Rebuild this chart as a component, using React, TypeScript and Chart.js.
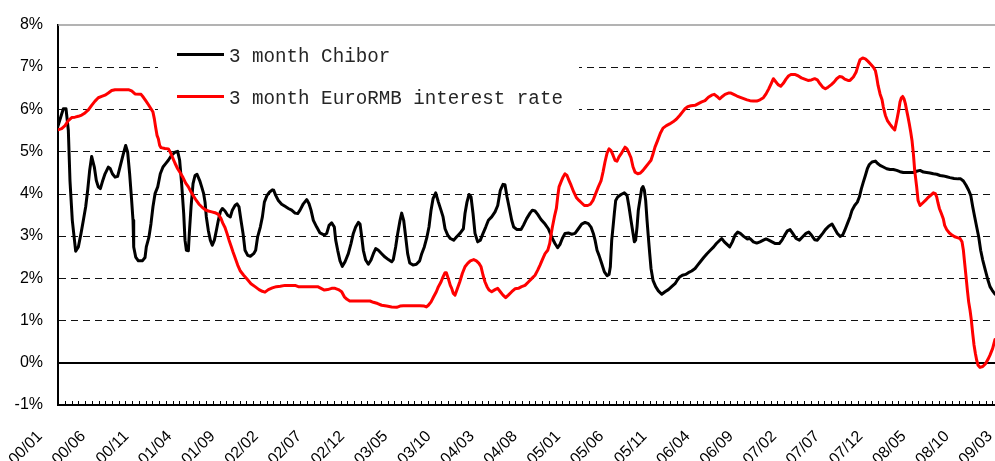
import React, { useEffect, useRef } from 'react';
import { Chart, registerables } from 'chart.js';

Chart.register(...registerables);

// x values are months counted from Jan 2000 (0 = 00/01)
const labelMonths = [0, 5, 10, 15, 20, 25, 30, 35, 40, 45, 50, 55, 60, 65, 70, 75, 80, 85, 90, 95, 100, 105, 110];
const tickLabels = ['00/01', '00/06', '00/11', '01/04', '01/09', '02/02', '02/07', '02/12', '03/05', '03/10', '04/03', '04/08',
  '05/01', '05/06', '05/11', '06/04', '06/09', '07/02', '07/07', '07/12', '08/05', '08/10', '09/03'];
const yTicks = [-1, 0, 1, 2, 3, 4, 5, 6, 7, 8];
const seriesNames = ['3 month Chibor', '3 month EuroRMB interest rate'];

const chiborMonths = [
  2.08, 2.70, 3.01, 3.28, 3.47, 3.74, 4.13, 4.44, 4.75, 5.02,
  5.29, 5.52, 5.75, 5.98, 6.29, 6.52, 6.75, 6.99, 7.22, 7.53,
  7.91, 8.14, 8.38, 8.69, 8.99, 9.26, 9.65, 9.92, 10.15, 10.38,
  10.61, 10.77, 10.85, 11.08, 11.39, 11.85, 12.16, 12.31, 12.62, 12.85,
  13.08, 13.32, 13.63, 13.93, 14.24, 14.55, 14.86, 15.25, 15.63, 15.94,
  16.17, 16.40, 16.64, 16.79, 16.95, 17.18, 17.29, 17.49, 17.72, 17.95,
  18.18, 18.49, 18.72, 18.95, 19.11, 19.26, 19.49, 19.72, 19.95, 20.19,
  20.42, 20.65, 20.88, 21.11, 21.42, 21.73, 22.04, 22.27, 22.58, 22.81,
  23.04, 23.27, 23.51, 23.74, 24.05, 24.36, 24.74, 24.97, 25.20, 25.51,
  25.75, 25.98, 26.29, 26.59, 26.90, 27.06, 27.29, 27.60, 27.98, 28.37,
  28.76, 29.14, 29.53, 29.84, 30.11, 30.49, 30.88, 31.15, 31.38, 31.65,
  32.04, 32.42, 32.93, 33.20, 33.47, 33.77, 34.08, 34.24, 34.47, 34.74,
  35.01, 35.32, 35.70, 36.01, 36.28, 36.55, 36.86, 37.06, 37.25, 37.44,
  37.71, 38.02, 38.33, 38.60, 38.87, 39.18, 39.56, 39.95, 40.34, 40.72,
  40.91, 41.18, 41.42, 41.69, 41.88, 42.11, 42.34, 42.57, 42.81, 43.19,
  43.58, 43.96, 44.20, 44.50, 44.81, 45.04, 45.28, 45.51, 45.82, 46.13,
  46.43, 46.67, 46.90, 47.21, 47.51, 47.90, 48.25, 48.63, 49.02, 49.21,
  49.44, 49.68, 49.91, 50.14, 50.37, 50.68, 50.99, 51.30, 51.61, 51.92,
  52.30, 52.69, 53.00, 53.30, 53.61, 53.84, 54.08, 54.31, 54.62, 54.85,
  55.23,
  55.70, 55.97, 56.35, 56.74, 57.01, 57.32, 57.63, 58.01, 58.48, 58.86,
  59.09, 59.33, 59.63, 59.94, 60.21, 60.48, 60.79, 61.18, 61.56, 61.95,
  62.34, 62.72, 63.11, 63.49, 63.80, 64.07, 64.27, 64.50, 64.73, 65.04,
  65.35, 65.66, 65.89, 66.04, 66.20, 66.35, 66.50, 66.66, 66.89, 67.28,
  67.66, 67.97, 68.20, 68.43, 68.67, 68.82, 68.97, 69.13, 69.28, 69.52,
  69.67, 69.82, 69.98, 70.13, 70.29, 70.44, 70.60, 70.75, 70.98, 71.29,
  71.60, 71.99, 72.37, 72.76, 73.14, 73.53, 73.84, 74.07, 74.38, 74.76,
  75.07, 75.46, 75.85, 76.15, 76.46, 76.85, 77.23, 77.62, 78.01, 78.32,
  78.62, 78.93, 79.24, 79.55, 79.86, 80.17, 80.48, 80.79, 81.09, 81.48,
  81.87,
  82.21, 82.60, 82.99, 83.37, 83.76, 84.07, 84.38, 84.76, 85.15, 85.61,
  85.92, 86.23, 86.54, 86.85, 87.16, 87.54, 87.93, 88.31, 88.70, 89.01,
  89.32, 89.70, 90.01, 90.32, 90.63, 90.94, 91.32, 91.71, 92.02, 92.33,
  92.64, 92.94, 93.18, 93.49, 93.79, 94.03, 94.33, 94.64, 94.87, 95.11,
  95.34, 95.57, 95.80, 96.03, 96.34, 96.73, 96.96, 97.27, 97.65, 98.04,
  98.43, 98.81, 99.20, 99.58, 99.97, 100.74, 101.13, 101.51, 101.90, 102.29,
  102.67, 103.06, 103.44, 103.83, 104.22, 104.60, 104.99, 105.37, 105.84, 106.30,
  106.61, 106.92, 107.23, 107.53, 107.77, 108.00, 108.23, 108.46, 108.69, 108.92,
  109.16, 109.46, 109.77, 110.00, 110.24, 110.58,
];
const chiborRates = [
  5.60, 6.01, 6.01, 5.50, 4.31, 3.37, 2.64, 2.74, 3.06, 3.37,
  3.69, 4.08, 4.55, 4.88, 4.63, 4.31, 4.16, 4.12, 4.28, 4.47,
  4.63, 4.59, 4.47, 4.39, 4.41, 4.63, 4.94, 5.14, 4.98, 4.47,
  3.84, 3.37, 2.74, 2.50, 2.41, 2.41, 2.49, 2.74, 2.98, 3.29,
  3.69, 4.00, 4.16, 4.47, 4.63, 4.71, 4.79, 4.91, 4.98, 5.00,
  4.79, 4.24, 3.53, 2.90, 2.66, 2.65, 3.06, 3.69, 4.24, 4.43,
  4.46, 4.31, 4.16, 4.00, 3.80, 3.45, 3.13, 2.90, 2.78, 2.90,
  3.13, 3.37, 3.57, 3.65, 3.59, 3.49, 3.45, 3.61, 3.72, 3.76,
  3.69, 3.37, 3.06, 2.66, 2.54, 2.52, 2.58, 2.66, 2.98, 3.21,
  3.45, 3.80, 3.96, 4.04, 4.09, 4.08, 3.96, 3.84, 3.75, 3.70,
  3.65, 3.61, 3.54, 3.53, 3.61, 3.76, 3.86, 3.76, 3.61, 3.37,
  3.21, 3.07, 3.02, 3.06, 3.25, 3.31, 3.21, 2.90, 2.66, 2.41,
  2.28, 2.39, 2.58, 2.82, 3.06, 3.21, 3.32, 3.28, 2.98, 2.66,
  2.43, 2.33, 2.43, 2.58, 2.70, 2.66, 2.58, 2.50, 2.44, 2.39,
  2.44, 2.74, 3.06, 3.37, 3.54, 3.37, 2.98, 2.58, 2.36, 2.31,
  2.33, 2.41, 2.58, 2.74, 2.98, 3.21, 3.61, 3.88, 4.02, 3.80,
  3.61, 3.45, 3.17, 3.02, 2.94, 2.90, 2.98, 3.06, 3.17, 3.53,
  3.80, 3.98, 3.92, 3.53, 3.06, 2.86, 2.90, 3.06, 3.21, 3.37,
  3.45, 3.57, 3.72, 4.08, 4.22, 4.21, 3.92, 3.69, 3.37, 3.21,
  3.15,
  3.15, 3.25, 3.41, 3.54, 3.61, 3.59, 3.51, 3.39, 3.28, 3.17,
  3.06, 2.94, 2.82, 2.72, 2.80, 2.94, 3.06, 3.07, 3.04, 3.06,
  3.17, 3.28, 3.32, 3.29, 3.21, 3.06, 2.90, 2.66, 2.54, 2.35,
  2.15, 2.06, 2.09, 2.27, 2.90, 3.21, 3.53, 3.84, 3.92, 3.98,
  4.02, 3.96, 3.69, 3.37, 3.06, 2.86, 2.90, 3.21, 3.61, 3.92,
  4.12, 4.17, 4.08, 3.84, 3.37, 2.98, 2.58, 2.23, 1.95, 1.80,
  1.70, 1.62, 1.68, 1.73, 1.80, 1.87, 1.97, 2.03, 2.07, 2.09,
  2.13, 2.17, 2.23, 2.31, 2.39, 2.49, 2.58, 2.66, 2.74, 2.82,
  2.88, 2.94, 2.86, 2.80, 2.74, 2.86, 3.02, 3.09, 3.06, 2.99,
  2.93,
  2.94, 2.86, 2.83, 2.86, 2.90, 2.93, 2.90, 2.86, 2.82, 2.82,
  2.90, 3.02, 3.12, 3.15, 3.06, 2.94, 2.90, 2.98, 3.06, 3.09,
  3.02, 2.91, 2.90, 2.98, 3.06, 3.15, 3.23, 3.28, 3.17, 3.06,
  2.99, 3.02, 3.13, 3.29, 3.45, 3.61, 3.72, 3.80, 3.92, 4.12,
  4.28, 4.43, 4.59, 4.69, 4.75, 4.77, 4.72, 4.67, 4.63, 4.59,
  4.57, 4.57, 4.55, 4.52, 4.50, 4.50, 4.50, 4.53, 4.55, 4.51,
  4.50, 4.49, 4.47, 4.46, 4.43, 4.42, 4.40, 4.38, 4.36, 4.35,
  4.35, 4.30, 4.20, 4.08, 3.96, 3.69, 3.45, 3.21, 2.98, 2.66,
  2.43, 2.19, 1.95, 1.80, 1.72, 1.62,
];

const euroMonths = [
  2.08, 2.51, 2.90, 3.28, 3.67, 4.05, 4.44, 4.83, 5.21, 5.60,
  5.98, 6.37, 6.75, 7.14, 7.53, 7.91, 8.30, 8.69, 9.84, 10.23,
  10.61, 11.00, 11.70, 11.97, 12.24, 12.54, 12.85, 13.08, 13.24, 13.39,
  13.55, 13.70, 13.86, 14.01, 14.47, 14.86, 15.09, 15.32, 15.63, 15.94,
  16.25, 16.56, 16.87, 17.18, 17.49, 17.79, 18.10, 18.41, 18.72, 19.11,
  19.49, 19.88, 20.26, 20.65, 20.96, 21.19, 21.42, 21.65, 21.89, 22.12,
  22.35, 22.58, 22.89, 23.20, 23.58, 23.97, 24.43, 24.90, 25.36, 25.74,
  26.05, 26.44, 26.90, 27.37, 27.83, 28.37, 28.76, 29.53, 29.91, 32.15,
  32.54, 32.93, 33.31, 33.77, 34.16, 34.55, 34.93, 35.24, 35.55, 35.86,
  38.21, 38.60, 39.10, 39.56, 40.14, 40.72, 41.30, 41.69, 42.07, 44.00,
  44.50, 44.74, 44.97, 45.28, 45.58, 45.89, 46.13, 46.43, 46.67, 46.90,
  47.05, 47.28, 47.51, 47.67, 47.86, 48.06, 48.29, 48.60, 48.90, 49.21,
  49.52, 49.83, 50.22, 50.53, 50.83, 51.07, 51.30, 51.53, 51.76, 51.99,
  52.30, 52.69, 53.00, 53.30, 53.61, 53.92, 54.23, 54.62, 55.00, 55.39,
  55.77, 56.16, 56.55, 56.93, 57.32, 57.63, 57.90, 58.17, 58.48, 58.79,
  59.02, 59.17, 59.33, 59.56, 59.79, 59.94, 60.10, 60.33, 60.56, 60.79,
  61.02, 61.26, 61.49, 61.80, 62.10, 62.41, 62.72, 63.03, 63.42, 63.73,
  64.03, 64.34, 64.65, 64.96, 65.19, 65.42, 65.66, 65.89, 66.12, 66.35,
  66.58, 66.81, 67.04, 67.28, 67.51, 67.74, 67.97, 68.20, 68.43, 68.67,
  68.90, 69.21, 69.52, 69.82, 70.13, 70.44, 70.75, 70.98, 71.21, 71.52,
  71.83, 72.14, 72.53, 72.91, 73.30, 73.68, 74.07, 74.38, 74.69, 75.00,
  75.38, 75.85, 76.23, 76.62, 77.00, 77.39, 77.77, 78.08, 78.39, 78.70,
  79.01, 79.32, 79.70, 80.01, 80.32, 80.71, 81.09, 81.48, 81.87, 82.21,
  82.60, 82.99, 83.37, 83.76, 84.07, 84.38, 84.68, 84.92, 85.15, 85.46,
  85.77, 86.07, 86.38, 86.69, 87.00, 87.39, 87.77, 88.16, 88.54, 88.93,
  89.32, 89.70, 90.01, 90.32, 90.63, 90.94, 91.25, 91.63, 91.94, 92.25,
  92.56, 92.87, 93.18, 93.56, 93.79, 94.18, 94.49, 94.72, 94.95, 95.26,
  95.57, 95.88, 96.19, 96.50, 96.73, 96.88, 97.04, 97.27, 97.50, 97.65,
  97.89, 98.12, 98.43, 98.73, 98.97, 99.12, 99.27, 99.43, 99.58, 99.74,
  99.89, 100.05, 100.20, 100.35, 100.51, 100.66, 100.82, 100.97, 101.13, 101.28,
  101.51, 101.67, 101.90, 102.21, 102.52, 102.83, 103.13, 103.44, 103.67, 103.83,
  103.98, 104.14, 104.37, 104.60, 104.75, 104.99, 105.30, 105.60, 105.91, 106.22,
  106.53, 106.76, 106.92, 107.07, 107.23, 107.38, 107.53, 107.69, 107.84, 108.00,
  108.15, 108.31, 108.46, 108.62, 108.85, 109.16, 109.46, 109.77, 110.00, 110.31,
  110.58,
];
const euroRates = [
  5.51, 5.54, 5.61, 5.73, 5.80, 5.81, 5.83, 5.86, 5.91, 5.98,
  6.09, 6.19, 6.27, 6.30, 6.33, 6.38, 6.44, 6.46, 6.46, 6.46,
  6.43, 6.36, 6.35, 6.28, 6.20, 6.11, 6.01, 5.93, 5.77, 5.57,
  5.38, 5.30, 5.14, 5.09, 5.07, 5.06, 4.98, 4.87, 4.72, 4.59,
  4.49, 4.38, 4.25, 4.16, 4.04, 3.94, 3.84, 3.75, 3.69, 3.62,
  3.59, 3.57, 3.55, 3.51, 3.41, 3.29, 3.20, 3.06, 2.90, 2.76,
  2.62, 2.49, 2.31, 2.17, 2.07, 1.98, 1.87, 1.80, 1.73, 1.69,
  1.67, 1.73, 1.77, 1.80, 1.81, 1.83, 1.83, 1.83, 1.80, 1.80,
  1.76, 1.72, 1.73, 1.76, 1.76, 1.73, 1.68, 1.56, 1.50, 1.46,
  1.46, 1.43, 1.40, 1.36, 1.34, 1.32, 1.31, 1.34, 1.35, 1.35,
  1.34, 1.32, 1.36, 1.44, 1.56, 1.68, 1.80, 1.91, 2.03, 2.13,
  2.13, 1.99, 1.83, 1.76, 1.64, 1.60, 1.73, 1.91, 2.11, 2.27,
  2.35, 2.41, 2.44, 2.41, 2.35, 2.27, 2.07, 1.91, 1.80, 1.72,
  1.68, 1.73, 1.76, 1.68, 1.60, 1.54, 1.60, 1.68, 1.75, 1.76,
  1.80, 1.83, 1.91, 1.99, 2.07, 2.19, 2.31, 2.44, 2.58, 2.66,
  2.82, 3.02, 3.21, 3.45, 3.65, 3.92, 4.16, 4.28, 4.39, 4.47,
  4.43, 4.31, 4.20, 4.04, 3.91, 3.84, 3.78, 3.72, 3.72, 3.75,
  3.84, 4.00, 4.16, 4.30, 4.51, 4.75, 4.96, 5.06, 5.02, 4.91,
  4.79, 4.77, 4.87, 4.94, 5.02, 5.10, 5.06, 4.96, 4.85, 4.63,
  4.51, 4.47, 4.49, 4.55, 4.63, 4.71, 4.79, 4.94, 5.10, 5.26,
  5.43, 5.55, 5.61, 5.65, 5.70, 5.76, 5.85, 5.93, 6.01, 6.06,
  6.08, 6.09, 6.13, 6.17, 6.20, 6.28, 6.33, 6.35, 6.30, 6.24,
  6.30, 6.35, 6.38, 6.38, 6.35, 6.31, 6.28, 6.25, 6.22, 6.20,
  6.19, 6.19, 6.22, 6.27, 6.36, 6.48, 6.61, 6.72, 6.66, 6.58,
  6.54, 6.61, 6.71, 6.79, 6.82, 6.82, 6.79, 6.74, 6.71, 6.68,
  6.69, 6.72, 6.69, 6.60, 6.52, 6.48, 6.52, 6.58, 6.64, 6.72,
  6.77, 6.76, 6.71, 6.68, 6.68, 6.76, 6.87, 7.03, 7.17, 7.21,
  7.19, 7.13, 7.06, 6.99, 6.91, 6.76, 6.56, 6.36, 6.22, 6.05,
  5.85, 5.73, 5.64, 5.56, 5.51, 5.65, 5.80, 5.97, 6.17, 6.27,
  6.30, 6.24, 6.13, 5.97, 5.81, 5.65, 5.46, 5.26, 4.94, 4.55,
  4.16, 3.84, 3.72, 3.78, 3.84, 3.91, 3.96, 4.02, 4.00, 3.92,
  3.78, 3.65, 3.53, 3.40, 3.25, 3.15, 3.07, 3.02, 2.98, 2.96,
  2.94, 2.86, 2.66, 2.35, 2.03, 1.72, 1.44, 1.24, 1.01, 0.69,
  0.42, 0.22, 0.06, -0.06, -0.11, -0.09, -0.03, 0.08, 0.18, 0.34,
  0.55,
];

// visible x range (months) and the small axis tick marks
const X_MIN = 2.084;
const X_MAX = 110.58;
const MINOR_START = 2.894;
const MINOR_STEP = 0.7781;

const toPoints = (xs: number[], ys: number[]) => {
  const n = Math.min(xs.length, ys.length);
  const out: { x: number; y: number }[] = [];
  for (let i = 0; i < n; i++) out.push({ x: xs[i], y: ys[i] });
  return out;
};

const framePlugin = {
  id: 'frame',
  beforeDatasetsDraw(chart: any) {
    const { ctx, chartArea: a, scales } = chart;
    const x = scales.x;
    const y = scales.y;
    ctx.save();
    // dashed gridlines
    ctx.strokeStyle = '#111';
    ctx.lineWidth = 1;
    ctx.setLineDash([7, 5]);
    yTicks.forEach((v) => {
      if (v <= 0 || v >= 8) return;
      const py = Math.round(y.getPixelForValue(v)) + 0.5;
      ctx.beginPath();
      ctx.moveTo(a.left + 1, py);
      ctx.lineTo(a.right, py);
      ctx.stroke();
    });
    ctx.setLineDash([]);
    // top border
    ctx.strokeStyle = '#9a9a9a';
    ctx.lineWidth = 1.5;
    const pt = Math.round(y.getPixelForValue(8));
    ctx.beginPath();
    ctx.moveTo(a.left, pt);
    ctx.lineTo(a.right, pt);
    ctx.stroke();
    // zero line
    ctx.strokeStyle = '#000';
    ctx.lineWidth = 2;
    const pz = Math.round(y.getPixelForValue(0));
    ctx.beginPath();
    ctx.moveTo(a.left, pz);
    ctx.lineTo(a.right, pz);
    ctx.stroke();
    // small tick marks on the category axis
    ctx.lineWidth = 1;
    for (let m = MINOR_START; m <= X_MAX; m += MINOR_STEP) {
      const px = Math.round(x.getPixelForValue(m)) + 0.5;
      ctx.beginPath();
      ctx.moveTo(px, a.bottom);
      ctx.lineTo(px, a.bottom - 4);
      ctx.stroke();
    }
    // legend box
    const lx = a.left + 100;
    const ly = a.top + 8;
    ctx.fillStyle = '#ffffff';
    ctx.fillRect(lx, ly, 421, 84);
    const ds = chart.data.datasets;
    ctx.font = '19.2px "Liberation Mono", "DejaVu Sans Mono", monospace';
    ctx.textBaseline = 'alphabetic';
    ctx.textAlign = 'left';
    ds.forEach((d: any, i: number) => {
      const cy = ly + 22 + i * 42;
      ctx.strokeStyle = d.borderColor;
      ctx.lineWidth = 3;
      ctx.beginPath();
      ctx.moveTo(lx + 19, cy);
      ctx.lineTo(lx + 66, cy);
      ctx.stroke();
      ctx.save();
      ctx.translate(lx + 71, cy + 7);
      ctx.scale(1, 1.1);
      ctx.fillStyle = '#262626';
      ctx.fillText(d.label, 0, 0);
      ctx.restore();
    });
    ctx.restore();
  },
};

export default function App() {
  const ref = useRef<HTMLCanvasElement | null>(null);
  useEffect(() => {
    if (!ref.current) return;
    const tickFont = { family: '"Liberation Sans", Arial, sans-serif', size: 16 };
    const chart = new Chart(ref.current, {
      type: 'line',
      data: {
        datasets: [
          {
            label: seriesNames[0],
            data: toPoints(chiborMonths, chiborRates),
            borderColor: '#000000',
            backgroundColor: '#000000',
            borderWidth: 3,
            pointRadius: 0,
            tension: 0,
            fill: false,
            order: 1,
            borderJoinStyle: 'round',
            borderCapStyle: 'round',
          },
          {
            label: seriesNames[1],
            data: toPoints(euroMonths, euroRates),
            borderColor: '#ff0000',
            backgroundColor: '#ff0000',
            borderWidth: 3,
            pointRadius: 0,
            tension: 0,
            fill: false,
            order: 0,
            borderJoinStyle: 'round',
            borderCapStyle: 'round',
          },
        ],
      },
      options: {
        responsive: false,
        animation: false,
        devicePixelRatio: 1,
        layout: { padding: { top: 24, left: 0, right: 0, bottom: 0 } },
        plugins: { legend: { display: false }, tooltip: { enabled: false } },
        scales: {
          x: {
            type: 'linear',
            min: X_MIN,
            max: X_MAX,
            afterBuildTicks: (s: any) => {
              s.ticks = labelMonths.map((v) => ({ value: v }));
            },
            ticks: {
              autoSkip: false,
              minRotation: 45,
              maxRotation: 45,
              padding: 22,
              color: '#000',
              font: tickFont,
              callback: (v: any) => {
                const i = labelMonths.indexOf(Number(v));
                return i >= 0 ? tickLabels[i] : '';
              },
            },
            grid: { display: false, drawTicks: false },
            border: { display: true, color: '#000', width: 2 },
            afterFit: (s: any) => {
              s.height = 56;
              s.paddingLeft = 0;
              s.paddingRight = 0;
            },
          },
          y: {
            type: 'linear',
            min: -1,
            max: 8,
            afterBuildTicks: (s: any) => {
              s.ticks = yTicks.map((v) => ({ value: v }));
            },
            ticks: {
              padding: 15,
              color: '#000',
              font: tickFont,
              callback: (v: any) => `${v}%`,
            },
            grid: { display: false, drawTicks: false },
            border: { display: true, color: '#000', width: 2 },
            afterFit: (s: any) => {
              s.width = 58;
            },
          },
        },
      },
      plugins: [framePlugin],
    } as any);
    return () => chart.destroy();
  }, []);
  return (
    <div style={{ position: 'fixed', left: 0, top: 0, width: 995, height: 461, overflow: 'hidden', background: '#fff' }}>
      <canvas ref={ref} width={995} height={461} style={{ display: 'block' }} />
    </div>
  );
}
